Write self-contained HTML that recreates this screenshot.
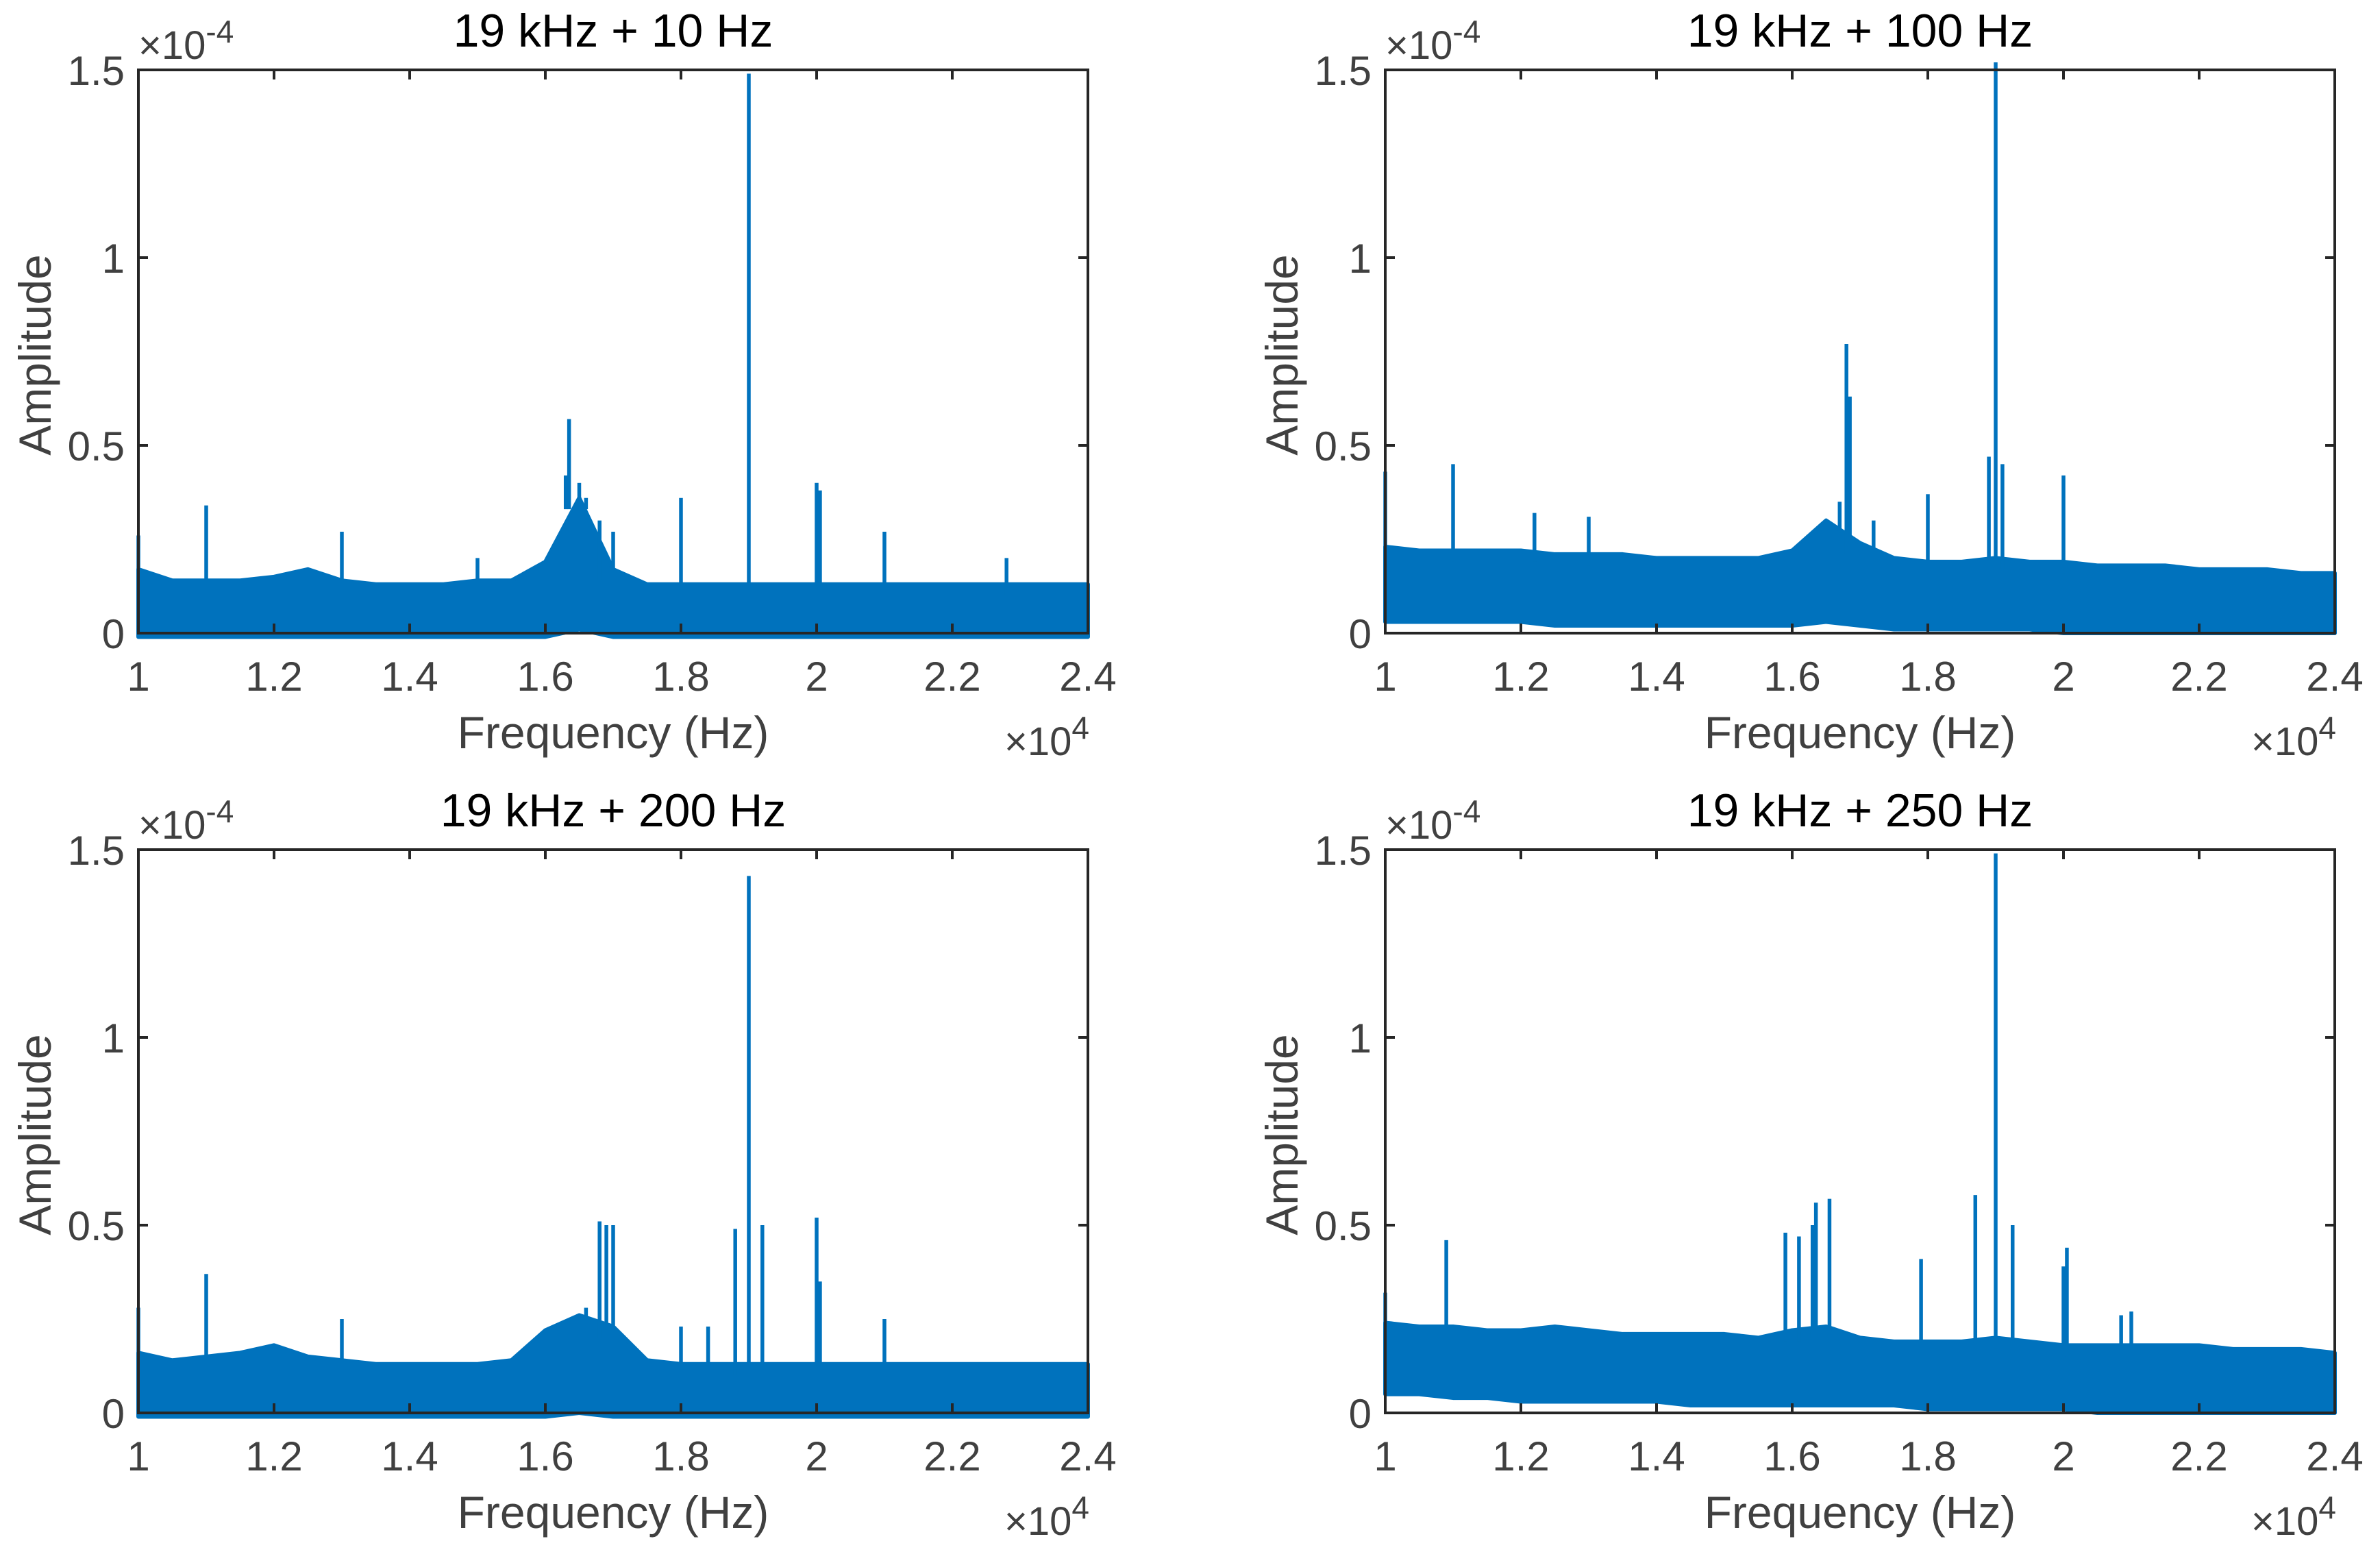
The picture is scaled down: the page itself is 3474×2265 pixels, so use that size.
<!DOCTYPE html>
<html><head><meta charset="utf-8"><style>
html,body{margin:0;padding:0;background:#fff;}
svg{display:block;font-family:"Liberation Sans",Arial,sans-serif;}
</style></head><body>
<svg id="fig" width="3474" height="2265" viewBox="0 0 3474 2265" xmlns="http://www.w3.org/2000/svg"></svg>
<script>
// ---- data (amplitudes in units of 1e-5; frequencies in Hz) ----
const titles = ["19 kHz + 10 Hz","19 kHz + 100 Hz","19 kHz + 200 Hz","19 kHz + 250 Hz"];
const envFreqs = [10000,10500,11000,11500,12000,12500,13000,13500,14000,14500,15000,15500,16000,16500,17000,17500,18000,18500,19000,19500,20000,20500,21000,21500,22000,22500,23000,23500,24000];
const upper1 = [1.7,1.4,1.4,1.4,1.5,1.7,1.4,1.3,1.3,1.3,1.4,1.4,1.9,3.6,1.7,1.3,1.3,1.3,1.3,1.3,1.3,1.3,1.3,1.3,1.3,1.3,1.3,1.3,1.3];
const lower1 = [-0.1,-0.1,-0.1,-0.1,-0.1,-0.1,-0.1,-0.1,-0.1,-0.1,-0.1,-0.1,-0.1,0.1,-0.1,-0.1,-0.1,-0.1,-0.1,-0.1,-0.1,-0.1,-0.1,-0.1,-0.1,-0.1,-0.1,-0.1,-0.1];
const upper2 = [2.3,2.2,2.2,2.2,2.2,2.1,2.1,2.1,2.0,2.0,2.0,2.0,2.2,3.0,2.4,2.0,1.9,1.9,2.0,1.9,1.9,1.8,1.8,1.8,1.7,1.7,1.7,1.6,1.6];
const lower2 = [0.3,0.3,0.3,0.3,0.3,0.2,0.2,0.2,0.2,0.2,0.2,0.2,0.2,0.3,0.2,0.1,0.1,0.1,0.1,0.1,0.0,0.0,0.0,0.0,0.0,0.0,0.0,0.0,0.0];
const upper3 = [1.6,1.4,1.5,1.6,1.8,1.5,1.4,1.3,1.3,1.3,1.3,1.4,2.2,2.6,2.3,1.4,1.3,1.3,1.3,1.3,1.3,1.3,1.3,1.3,1.3,1.3,1.3,1.3,1.3];
const lower3 = [-0.1,-0.1,-0.1,-0.1,-0.1,-0.1,-0.1,-0.1,-0.1,-0.1,-0.1,-0.1,-0.1,0.0,-0.1,-0.1,-0.1,-0.1,-0.1,-0.1,-0.1,-0.1,-0.1,-0.1,-0.1,-0.1,-0.1,-0.1,-0.1];
const upper4 = [2.4,2.3,2.3,2.2,2.2,2.3,2.2,2.1,2.1,2.1,2.1,2.0,2.2,2.3,2.0,1.9,1.9,1.9,2.0,1.9,1.8,1.8,1.8,1.8,1.8,1.7,1.7,1.7,1.6];
const lower4 = [0.5,0.5,0.4,0.4,0.3,0.3,0.3,0.3,0.3,0.2,0.2,0.2,0.2,0.2,0.2,0.2,0.1,0.1,0.1,0.1,0.1,0.0,0.0,0.0,0.0,0.0,0.0,0.0,0.0];
const spikeF1 = [10000,11000,13000,15000,16300,16350,16500,16600,16800,17000,18000,19000,20000,20050,21000,22800];
const spikeA1 = [2.6,3.4,2.7,2.0,4.2,5.7,4.0,3.6,3.0,2.7,3.6,14.9,4.0,3.8,2.7,2.0];
const spikeF2 = [10000,11000,12200,13000,16700,16800,16850,17200,18000,18900,19000,19100,20000];
const spikeA2 = [4.3,4.5,3.2,3.1,3.5,7.7,6.3,3.0,3.7,4.7,15.2,4.5,4.2];
const spikeF3 = [10000,11000,13000,16600,16800,16900,17000,18000,18400,18800,19000,19200,20000,20050,21000];
const spikeA3 = [2.8,3.7,2.5,2.8,5.1,5.0,5.0,2.3,2.3,4.9,14.3,5.0,5.2,3.5,2.5];
const spikeF4 = [10000,10900,15900,16100,16300,16350,16550,17900,18700,19000,19250,20000,20050,20850,21000];
const spikeA4 = [3.2,4.6,4.8,4.7,5.0,5.6,5.7,4.1,5.8,14.9,5.0,3.9,4.4,2.6,2.7];
const xTicks = [10000,12000,14000,16000,18000,20000,22000,24000];
const xTickLabels = ["1","1.2","1.4","1.6","1.8","2","2.2","2.4"];
const yTicks = [0,5,10,15];
const yTickLabels = ["0","0.5","1","1.5"];

const uppers=[upper1,upper2,upper3,upper4], lowers=[lower1,lower2,lower3,lower4];
const sF=[spikeF1,spikeF2,spikeF3,spikeF4], sA=[spikeA1,spikeA2,spikeA3,spikeA4];
const NS="http://www.w3.org/2000/svg";
const svg=document.getElementById('fig');
function mk(tag,attrs,parent){const e=document.createElementNS(NS,tag);for(const k in attrs)e.setAttribute(k,attrs[k]);(parent||svg).appendChild(e);return e;}
const boxes=[{l:202,t:102},{l:2022,t:102},{l:202,t:1240},{l:2022,t:1240}];
const W=1386,H=822;
boxes.forEach((b,i)=>{
  const g=mk('g',{});
  
  
  const X=f=>b.l+(f-10000)/14000*W;
  const Y=v=>b.t+H-(v/15)*H;
  let pts=envFreqs.map((f,k)=>X(f)+','+Y(uppers[i][k])).join(' ')+' '+envFreqs.slice().reverse().map((f,k)=>X(f)+','+Y(lowers[i][envFreqs.length-1-k])).join(' ');
  const band=mk('polygon',{points:pts,fill:'#0072BD',stroke:'#0072BD','stroke-width':6,'stroke-linejoin':'round'},g);
  
  
  sF[i].forEach((f,k)=>{
    const ln=mk('line',{x1:X(f),x2:X(f),y1:Y(uppers[i][Math.round((f-10000)/500)]-0.3),y2:Y(sA[i][k]),stroke:'#0072BD','stroke-width':5.5},g);
    
    
  });
  xTicks.forEach((f,k)=>{
    mk('line',{x1:X(f),x2:X(f),y1:b.t+H,y2:b.t+H-14,stroke:'#262626','stroke-width':4},g);
    mk('line',{x1:X(f),x2:X(f),y1:b.t,y2:b.t+14,stroke:'#262626','stroke-width':4},g);
    const t=mk('text',{x:X(f),y:b.t+H+84,'font-size':60,'text-anchor':'middle',fill:'#404040'},g);
    t.textContent=xTickLabels[k];
    
    
  });
  yTicks.forEach((v,k)=>{
    mk('line',{x1:b.l,x2:b.l+14,y1:Y(v),y2:Y(v),stroke:'#262626','stroke-width':4},g);
    mk('line',{x1:b.l+W,x2:b.l+W-14,y1:Y(v),y2:Y(v),stroke:'#262626','stroke-width':4},g);
    const t=mk('text',{x:b.l-20,y:Y(v)+22,'font-size':60,'text-anchor':'end',fill:'#404040'},g);
    t.textContent=yTickLabels[k];
    
    
  });
  const fr=mk('rect',{x:b.l,y:b.t,width:W,height:H,fill:'none',stroke:'#262626','stroke-width':4},g);
  
  
  const ti=mk('text',{x:b.l+W/2,y:b.t-34,'font-size':68,'text-anchor':'middle',fill:'#000'},g);
  ti.textContent=titles[i];
  
  
  const ye=mk('text',{x:b.l,y:b.t-16,'font-size':58,fill:'#404040'},g);
  ye.innerHTML='×10<tspan dy="-24" font-size="46">-4</tspan>';
  
  
  const xe=mk('text',{x:b.l+W-60,y:b.t+H+178,'font-size':58,'text-anchor':'middle',fill:'#404040'},g);
  xe.innerHTML='×10<tspan dy="-24" font-size="46">4</tspan>';
  
  
  const xl=mk('text',{x:b.l+W/2,y:b.t+H+168,'font-size':66,'text-anchor':'middle',fill:'#404040'},g);
  xl.textContent='Frequency (Hz)';
  
  
  const cy=b.t+H/2+5;
  const yl=mk('text',{x:b.l-128,y:cy,'font-size':66,'text-anchor':'middle',fill:'#404040',transform:'rotate(-90 '+(b.l-128)+' '+cy+')'},g);
  yl.textContent='Amplitude';
  
  
});
</script>
</body></html>
